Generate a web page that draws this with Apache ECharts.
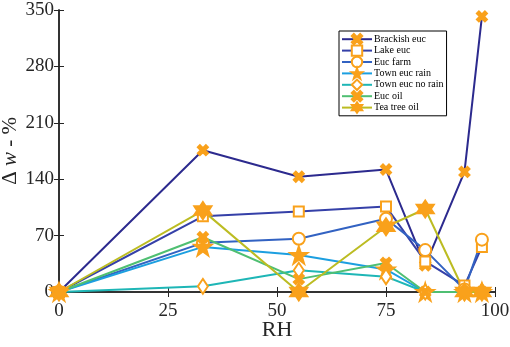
<!DOCTYPE html>
<html>
<head>
<meta charset="utf-8">
<script src="https://cdn.jsdelivr.net/npm/echarts@6/dist/echarts.min.js"></script>
<style>
  html, body { margin: 0; padding: 0; background: #fff; }
  #chart { width: 510px; height: 347px; }
</style>
</head>
<body>
<div id="chart"></div>
<script>
// relative humidity (x) of each measurement
var rh = [0, 33, 55, 75, 84, 93, 97];

// weight change, %
var brackishEuc = [0, 176, 143, 152, 33, 149, 342];
var lakeEuc = [0, 94, 100, 106, 38, 8, 56];
var eucFarm = [0, 61, 66, 91, 52, 3, 65];
var townEucRain = [0, 56, 46, 28, 0, 0, 0];
var townEucNoRain = [0, 7, 27, 19, 0, 0, 0];
var eucOil = [0, 68, 16, 36, 0, 0, 0];
var teaTreeOil = [0, 101, 0, 81, 103, 0, 0];

var xTicks = [0, 25, 50, 75, 100];
var yTicks = [0, 70, 140, 210, 280, 350];

var names = ['Brackish euc', 'Lake euc', 'Euc farm', 'Town euc rain', 'Town euc no rain', 'Euc oil', 'Tea tree oil'];
var values = [brackishEuc, lakeEuc, eucFarm, townEucRain, townEucNoRain, eucOil, teaTreeOil];
var lineColors = ['#2c2a8e', '#3540a8', '#3262c2', '#1c9fe0', '#1eb6b6', '#4fbf72', '#bcbc22'];

var xMark = 'path://M0,2 L2,0 L5,3 L8,0 L10,2 L7,5 L10,8 L8,10 L5,7 L2,10 L0,8 L3,5 Z';
var pentagram = 'path://M50,0 L61.2,34.5 L97.6,34.5 L68.2,55.9 L79.4,90.5 L50,69.1 L20.6,90.5 L31.8,55.9 L2.4,34.5 L38.8,34.5 Z';
var hexagram = 'path://M50,0 L64.4,25 L93.3,25 L78.9,50 L93.3,75 L64.4,75 L50,100 L35.6,75 L6.7,75 L21.1,50 L6.7,25 L35.6,25 Z';
var symbols = [xMark, 'emptyRect', 'emptyCircle', pentagram, 'emptyDiamond', xMark, hexagram];
var sizes = [10, 10, 12, 17, [10, 15], 10, 17];

var orange = '#f9a11b';
var font = 'Liberation Serif';

var series = names.map(function (n, i) {
    return {
        name: n,
        type: 'line',
        data: rh.map(function (x, j) { return [x, values[i][j]]; }),
        symbol: symbols[i],
        symbolSize: sizes[i],
        lineStyle: { color: lineColors[i], width: 2 },
        itemStyle: { color: orange, borderColor: orange, borderWidth: 2 },
        emphasis: { disabled: true }
    };
});

var chart = echarts.init(document.getElementById('chart'));
chart.setOption({
    backgroundColor: '#fff',
    animation: false,
    grid: { left: 59, right: 15, top: 10, bottom: 55, outerBoundsMode: 'none' },
    legend: {
        data: names,
        orient: 'vertical',
        left: 339,
        top: 31,
        padding: [2, 3, 2, 2],
        itemGap: -1,
        itemWidth: 30,
        itemHeight: 13,
        borderColor: '#000',
        borderWidth: 1,
        borderRadius: 0,
        backgroundColor: '#fff',
        textStyle: { fontFamily: font, fontSize: 10, color: '#000', padding: [0, 0, 0, -3] }
    },
    xAxis: [{
        type: 'value',
        min: 0, max: 100, interval: 25,
        name: 'RH',
        nameLocation: 'middle',
        nameGap: 27,
        nameMoveOverlap: false,
        nameTextStyle: { fontFamily: font, fontSize: 22, color: '#262626' },
        axisLine: { lineStyle: { color: '#262626', width: 1.5 } },
        axisTick: { inside: true, length: 5, lineStyle: { color: '#262626' } },
        axisLabel: {
            fontFamily: font, fontSize: 19, color: '#262626', margin: 10,
            formatter: function (v) { return xTicks.indexOf(v) >= 0 ? String(v) : ''; }
        },
        splitLine: { show: false }
    }, {
        type: 'value', position: 'top',
        min: 0, max: 100, interval: 25,
        axisLine: { show: true, lineStyle: { color: '#262626', width: 1.5 } },
        axisTick: { show: true, inside: true, length: 5, lineStyle: { color: '#262626' } },
        axisLabel: { show: false },
        splitLine: { show: false }
    }],
    yAxis: [{
        type: 'value',
        min: 0, max: 350, interval: 70,
        name: '{a|Δ }{b|w}{a| - %}',
        nameLocation: 'middle',
        nameGap: 38,
        nameMoveOverlap: false,
        nameTextStyle: {
            color: '#262626',
            rich: {
                a: { fontFamily: font, fontSize: 21, color: '#262626' },
                b: { fontFamily: font, fontSize: 21, fontStyle: 'italic', color: '#262626' }
            }
        },
        axisLine: { show: true, lineStyle: { color: '#262626', width: 1.5 } },
        axisTick: { show: true, inside: true, length: 5, lineStyle: { color: '#262626' } },
        axisLabel: {
            fontFamily: font, fontSize: 19, color: '#262626', margin: 5,
            formatter: function (v) { return yTicks.indexOf(v) >= 0 ? String(v) : ''; }
        },
        splitLine: { show: false }
    }, {
        type: 'value', position: 'right',
        min: 0, max: 350, interval: 70,
        axisLine: { show: true, lineStyle: { color: '#262626', width: 1.5 } },
        axisTick: { show: true, inside: true, length: 5, lineStyle: { color: '#262626' } },
        axisLabel: { show: false },
        splitLine: { show: false }
    }],
    series: series
});
</script>
</body>
</html>
